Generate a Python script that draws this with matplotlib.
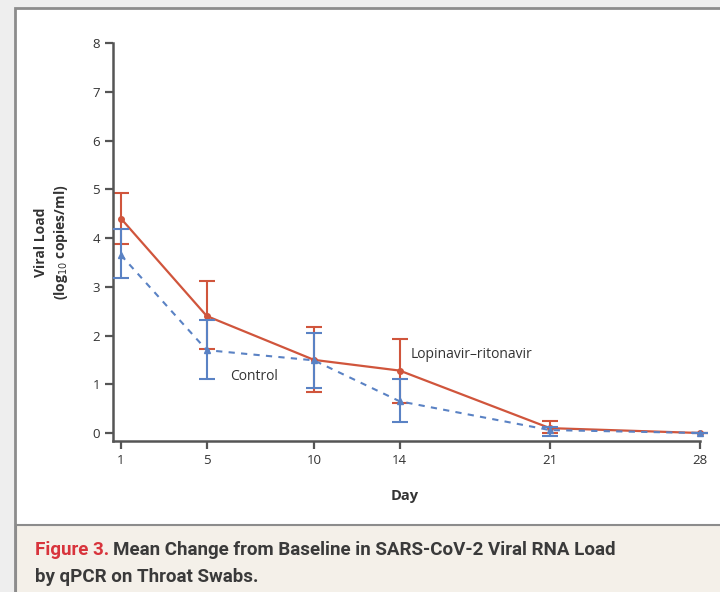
import matplotlib
matplotlib.use("Agg")
import matplotlib.pyplot as plt
from matplotlib.patches import Rectangle

# data
days = [1, 5, 10, 14, 21, 28]
lpv_mean = [4.40, 2.40, 1.50, 1.28, 0.10, 0.00]
lpv_low = [3.87, 1.72, 0.85, 0.62, 0.00, 0.00]
lpv_high = [4.93, 3.11, 2.17, 1.93, 0.25, 0.00]
ctl_mean = [3.65, 1.70, 1.49, 0.65, 0.06, 0.00]
ctl_low = [3.17, 1.11, 0.93, 0.22, -0.07, 0.00]
ctl_high = [4.18, 2.31, 2.06, 1.10, 0.12, 0.00]
yticks = [0, 1, 2, 3, 4, 5, 6, 7, 8]

red = "#d0553c"
blue = "#5a82c4"
axis_col = "#555555"
txt = "#333333"
font = ["Open Sans", "DejaVu Sans"]

fig = plt.figure(figsize=(7.2, 5.92), dpi=100)
fig.patch.set_facecolor("#eeeeee")

# white panel and caption box
fig.add_artist(Rectangle((15 / 720, -0.01), 1.0, (592 - 8) / 592 + 0.01,
                         transform=fig.transFigure, facecolor="white",
                         edgecolor="#8c8c8c", lw=2.0, zorder=0))
fig.add_artist(Rectangle((16 / 720, -0.01), 1.0, (592 - 525) / 592 + 0.01,
                         transform=fig.transFigure, facecolor="#f4f0e9",
                         edgecolor="#8c8c8c", lw=1.5, zorder=0))

ax = fig.add_axes([113 / 720, (592 - 441) / 592, (700 - 113) / 720, (441 - 43) / 592])
ax.set_facecolor("none")


def yerr(mean, low, high):
    return [[m - l for m, l in zip(mean, low)], [h - m for m, h in zip(mean, high)]]


ax.errorbar(days, ctl_mean, yerr=yerr(ctl_mean, ctl_low, ctl_high), color=blue,
            ls=(0, (3, 3)), lw=1.5, marker="^", ms=4, capsize=5.5, elinewidth=1.5,
            capthick=1.5, clip_on=False, zorder=3)
ax.errorbar(days, lpv_mean, yerr=yerr(lpv_mean, lpv_low, lpv_high), color=red,
            ls="-", lw=1.6, marker="o", ms=4, capsize=5.5, elinewidth=1.5,
            capthick=1.5, clip_on=False, zorder=2)

ax.set_xlim(0.63, 28)
ax.set_ylim(-0.164, 8)
ax.set_xticks(days)
ax.set_yticks(yticks)
for s in ["top", "right"]:
    ax.spines[s].set_visible(False)
for s in ["left", "bottom"]:
    ax.spines[s].set_color(axis_col)
    ax.spines[s].set_linewidth(1.8)
ax.tick_params(colors=axis_col, width=1.6, length=6, labelcolor=txt, labelsize=9.5)
for lab in ax.get_xticklabels() + ax.get_yticklabels():
    lab.set_family(font)

ax.text(6.1, 1.15, "Control", color=txt, fontsize=10, family=font, va="center")
ax.text(14.5, 1.62, "Lopinavir\u2013ritonavir", color=txt, fontsize=10, family=font,
        va="center")

fig.text(52 / 720, 1 - 242 / 592, "Viral Load\n(log$_{10}$ copies/ml)", rotation=90,
         ha="center", va="center", fontsize=10, fontweight="bold", color=txt,
         family=font, linespacing=1.3)
fig.text(405 / 720, 1 - 496 / 592, "Day", ha="center", va="center", fontsize=10.5,
         fontweight="bold", color=txt, family=font)

cap_font = ["Roboto", "DejaVu Sans"]
t1 = fig.text(35 / 720, 1 - 550 / 592, "Figure 3.", color="#d8343c", fontsize=13.5,
              fontweight="bold", family=cap_font, va="center")
fig.canvas.draw()
bb = t1.get_window_extent()
fig.text(bb.x1 / 720 + 4 / 720, 1 - 550 / 592,
         "Mean Change from Baseline in SARS-CoV-2 Viral RNA Load",
         color="#3a3a3a", fontsize=13.5, fontweight="bold", family=cap_font,
         va="center")
fig.text(35 / 720, 1 - 577 / 592, "by qPCR on Throat Swabs.", color="#3a3a3a",
         fontsize=13.5, fontweight="bold", family=cap_font, va="center")

fig.savefig("out.png", dpi=100, facecolor=fig.get_facecolor())
